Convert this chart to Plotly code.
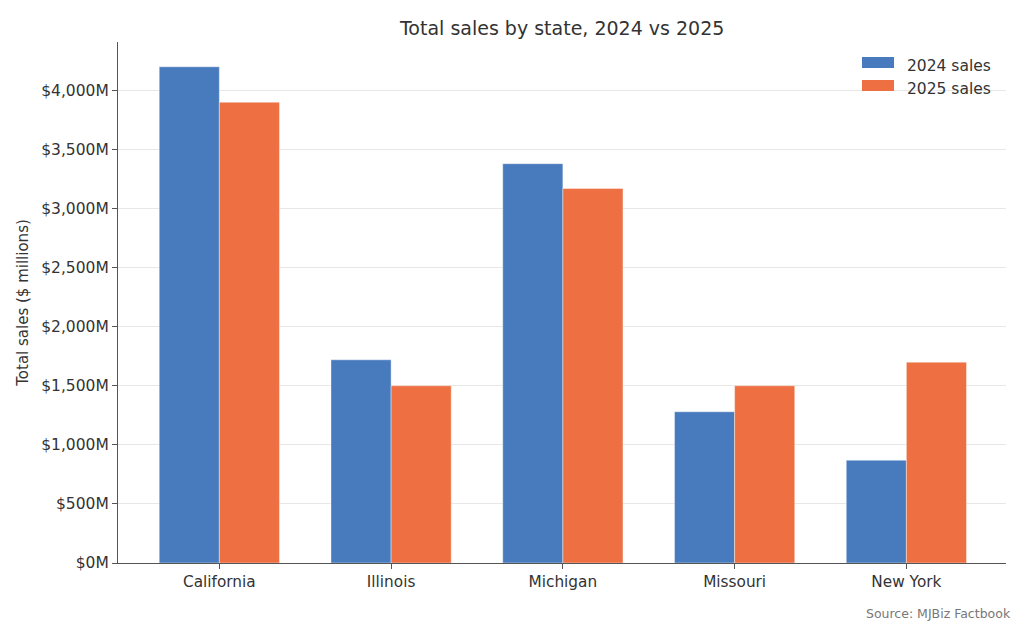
import plotly.graph_objects as go

states = ["California", "Illinois", "Michigan", "Missouri", "New York"]
sales_2024 = [4200, 1720, 3380, 1280, 870]
sales_2025 = [3900, 1500, 3170, 1500, 1700]
series_names = ["2024 sales", "2025 sales"]
tick_vals = [0, 500, 1000, 1500, 2000, 2500, 3000, 3500, 4000]
tick_text = ["$0M", "$500M", "$1,000M", "$1,500M", "$2,000M", "$2,500M", "$3,000M", "$3,500M", "$4,000M"]

BLUE = "#487bbd"
ORANGE = "#ee6f42"
FONT = "DejaVu Sans"
colors = [BLUE, ORANGE]

fig = go.Figure()
for name, vals, col in zip(series_names, [sales_2024, sales_2025], colors):
    fig.add_trace(go.Bar(x=states, y=vals, name=name, showlegend=False,
                         marker=dict(color=col, line=dict(color="rgba(255,255,255,0.5)", width=0.8))))

ymax = max(max(sales_2024), max(sales_2025)) * 1.05

# manual legend (wide patches like the reference)
shapes = []
annotations = []
leg_rows = [(0.9712, 0.9501, 0.9539), (0.9271, 0.9060, 0.9098)]
for (y0, y1, ty), name, col in zip(leg_rows, series_names, colors):
    shapes.append(dict(type="rect", xref="paper", yref="paper", x0=0.8378, x1=0.8739, y0=y1, y1=y0,
                       fillcolor=col, line=dict(width=0), layer="above"))
    annotations.append(dict(text=name, xref="paper", yref="paper", x=0.8863, y=ty, xanchor="left",
                            yanchor="middle", showarrow=False, font=dict(size=15.5, color="#333333")))

annotations.append(dict(text="Source: MJBiz Factbook", xref="paper", yref="paper", x=1.008, y=-0.096,
                        xanchor="right", yanchor="middle", showarrow=False, font=dict(size=12.5, color="#777777")))

fig.update_layout(
    width=1024, height=626,
    margin=dict(l=118, r=18, t=42, b=63),
    paper_bgcolor="white", plot_bgcolor="white",
    font=dict(family=FONT, size=15, color="#333333"),
    title=dict(text="Total sales by state, 2024 vs 2025", x=0.549, xanchor="center", y=0.955, yanchor="middle",
               font=dict(size=19, color="#333333")),
    barmode="group", bargap=0.3, bargroupgap=0,
    showlegend=False,
    xaxis=dict(range=[-0.59, 4.58], showline=True, linecolor="#555555", linewidth=1.2,
               ticks="outside", ticklen=5, tickcolor="#555555", showgrid=False, tickfont=dict(size=15.3)),
    yaxis=dict(range=[0, ymax], tickvals=tick_vals, ticktext=tick_text, showline=True, linecolor="#555555",
               linewidth=1.2, ticks="outside", ticklen=5, tickcolor="#555555", showgrid=True,
               gridcolor="#e8e7e3", gridwidth=1, zeroline=False, tickfont=dict(size=15.5),
               title=dict(text="Total sales ($ millions)", font=dict(size=15), standoff=8)),
    shapes=shapes,
    annotations=annotations,
)

fig.write_html("out.html")
